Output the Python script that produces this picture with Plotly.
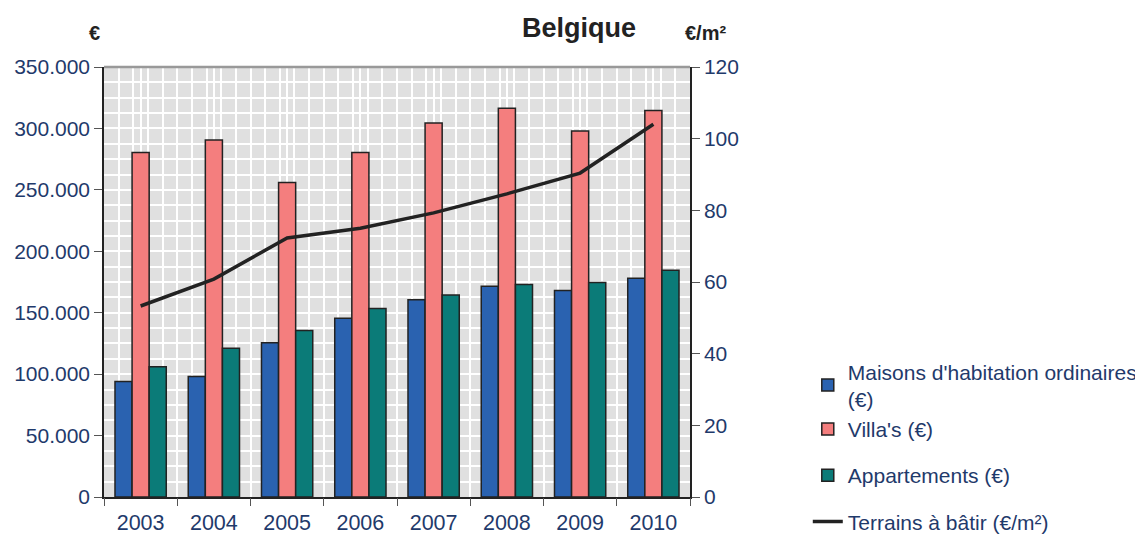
import plotly.graph_objects as go

years = [2003, 2004, 2005, 2006, 2007, 2008, 2009, 2010]
year_labels = ["2003", "2004", "2005", "2006", "2007", "2008", "2009", "2010"]
maisons = [94000, 98000, 125500, 145500, 160500, 171500, 168000, 178000]
villas = [280500, 290500, 256000, 280500, 304500, 316500, 298000, 314500]
appartements = [106000, 121000, 135500, 153500, 164500, 173000, 174500, 184500]
terrains = [53.3, 60.8, 72.3, 75.0, 79.3, 84.6, 90.4, 104.0]

left_ticks = [0, 50000, 100000, 150000, 200000, 250000, 300000, 350000]
right_ticks = [0, 20, 40, 60, 80, 100, 120]

navy = "#1F3A6B"
font_family = "Liberation Sans, Arial, sans-serif"
outline = dict(color="#222222", width=1.5)

fig = go.Figure()
fig.add_trace(go.Bar(x=years, y=maisons, name="Maisons d'habitation ordinaires<br>(€)",
                     marker=dict(color="#2A62B0", line=outline), legendgroup="a"))
fig.add_trace(go.Bar(x=years, y=villas, name="Villa's (€)",
                     marker=dict(color="#F47E7E", line=outline), legendgroup="a"))
fig.add_trace(go.Bar(x=years, y=appartements, name="Appartements (€)",
                     marker=dict(color="#0B7B78", line=outline), legendgroup="c"))
fig.add_trace(go.Scatter(x=years, y=terrains, name="Terrains à bâtir (€/m²)", yaxis="y2",
                         mode="lines", line=dict(color="#222222", width=3.5), legendgroup="d"))
fig.add_trace(go.Scatter(x=[2003], y=[None], xaxis="x2", showlegend=False, hoverinfo="skip"))

fig.update_layout(
    width=1143, height=536,
    margin=dict(l=96, r=461, t=59, b=47, autoexpand=False),
    paper_bgcolor="white",
    plot_bgcolor="#E0E0E0",
    separators=",.",
    font=dict(family=font_family, color=navy, size=21),
    barmode="group",
    bargap=0.3,
    bargroupgap=0,
    showlegend=True,
    legend=dict(x=1.201, xanchor="left", y=0.339, yanchor="top",
                font=dict(size=21, color=navy), tracegroupgap=16,
                bgcolor="rgba(0,0,0,0)"),
    xaxis=dict(range=[2002.5, 2010.5], tickvals=years, ticktext=year_labels,
               ticks="", showgrid=True, gridcolor="white", gridwidth=2,
               minor=dict(dtick=0.2, tick0=2002.5, showgrid=True, gridcolor="white", gridwidth=2),
               showline=True, linecolor="#222222", linewidth=1.5, automargin=False,
               ticklabelstandoff=5, zeroline=False, tickfont=dict(size=21.5, color=navy)),
    xaxis2=dict(range=[2002.5, 2010.5], overlaying="x", side="bottom", automargin=False,
                tickvals=[2002.5 + i for i in range(9)], ticks="outside", ticklen=8,
                tickwidth=1.2, tickcolor="#555555",
                showticklabels=False, showgrid=False, zeroline=False, showline=False),
    yaxis=dict(range=[0, 350000], tickvals=left_ticks, tickformat=",d",
               ticks="outside", ticklen=8, tickcolor="#555555", tickwidth=1.2,
               showgrid=True, gridcolor="white", gridwidth=2, automargin=False,
               minor=dict(dtick=12500, showgrid=True, gridcolor="white", gridwidth=2),
               showline=True, linecolor="#222222", linewidth=1.5, zeroline=False,
               tickfont=dict(size=21, color=navy)),
    yaxis2=dict(range=[0, 120], tickvals=right_ticks, overlaying="y", side="right",
                ticks="outside", ticklen=8, tickcolor="#555555", tickwidth=1.2,
                showgrid=False, showline=True, linecolor="#222222", linewidth=1.5,
                zeroline=False, automargin=False, tickfont=dict(size=21, color=navy)),
    shapes=[dict(type="line", xref="paper", yref="paper", x0=0, x1=1, y0=1, y1=1,
                 line=dict(color="#999999", width=2.5))],
    annotations=[
        dict(text="<b>Belgique</b>", xref="paper", yref="paper", x=0.8106, y=1.0907,
             xanchor="center", yanchor="middle", showarrow=False,
             font=dict(size=27, color="#222222", family=font_family)),
        dict(text="<b>€</b>", xref="paper", yref="paper", x=-0.0154, y=1.079,
             xanchor="center", yanchor="middle", showarrow=False,
             font=dict(size=20, color="#222222", family=font_family)),
        dict(text="<b>€/m²</b>", xref="paper", yref="paper", x=1.0256, y=1.079,
             xanchor="center", yanchor="middle", showarrow=False,
             font=dict(size=20, color="#222222", family=font_family)),
    ],
)

fig.write_html("out.html")
